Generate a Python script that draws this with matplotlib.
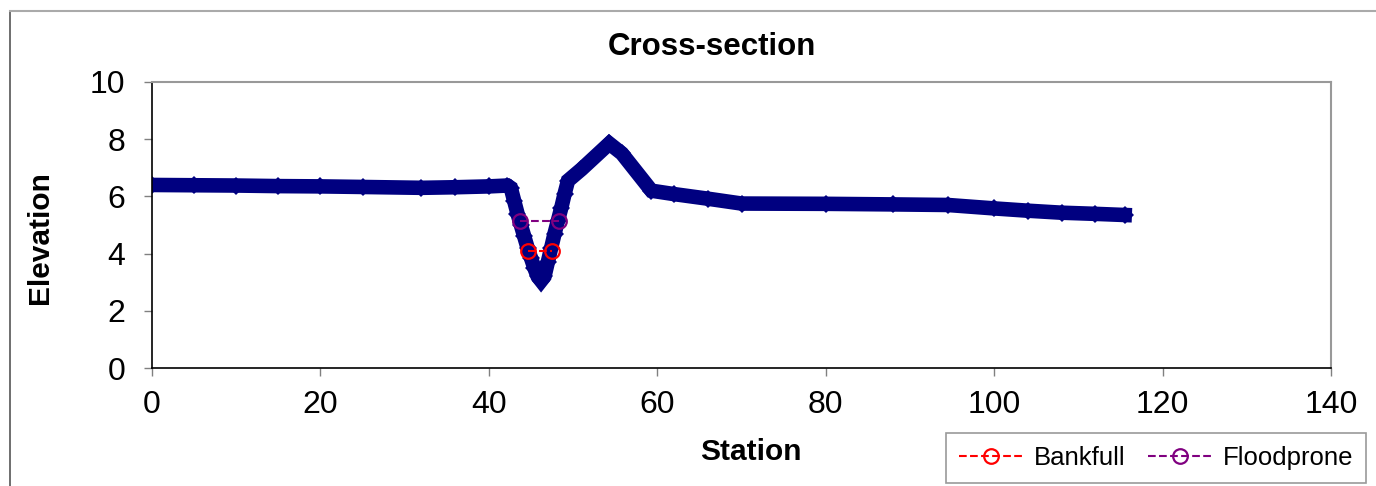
import matplotlib.pyplot as plt
from matplotlib.lines import Line2D

plt.rcParams['font.family'] = ['Liberation Sans', 'DejaVu Sans']

# 断面测量点 (station, elevation)
station = [0, 5, 10, 15, 20, 25, 32, 36, 40, 42.2,
           42.6, 43.0, 43.4, 43.8, 44.2, 44.6, 45.0, 45.4, 45.8, 46.2,
           46.6, 47.0, 47.4, 47.8, 48.2, 48.6, 49.0, 49.4,
           51.0, 54.3, 55.8, 59.3, 62.0, 66.0, 70.0, 80.0, 88.0, 94.5,
           100.0, 104.0, 108.0, 112.0, 115.5]
elevation = [6.40, 6.39, 6.38, 6.36, 6.35, 6.33, 6.30, 6.32, 6.35, 6.38,
             6.30, 5.85, 5.40, 5.00, 4.60, 4.20, 3.85, 3.50, 3.20, 3.05,
             3.20, 3.70, 4.20, 4.70, 5.15, 5.60, 6.10, 6.55,
             6.95, 7.85, 7.50, 6.20, 6.08, 5.92, 5.75, 5.74, 5.72, 5.70,
             5.58, 5.50, 5.43, 5.39, 5.35]

bankfull_x = [44.6, 47.5]
bankfull_y = [4.1, 4.1]
floodprone_x = [43.7, 48.3]
floodprone_y = [5.15, 5.15]

xticks = [0, 20, 40, 60, 80, 100, 120, 140]
yticks = [0, 2, 4, 6, 8, 10]

W, H = 1376, 486
fig = plt.figure(figsize=(W / 100, H / 100), dpi=100)
ax = fig.add_axes([152 / W, 1 - 368 / H, (1331 - 152) / W, (368 - 82) / H])

ax.plot(station, elevation, color='#000080', linewidth=10.5, marker='D',
        markersize=9.5, markeredgewidth=0, solid_joinstyle='miter', zorder=2)

ax.plot(bankfull_x, bankfull_y, color='#FF0000', linestyle='--', linewidth=1.5,
        marker='o', markersize=10.5, markerfacecolor='none', markeredgewidth=1.6,
        label='Bankfull', zorder=3)
ax.plot(floodprone_x, floodprone_y, color='#800080', linestyle='--', linewidth=1.5,
        marker='o', markersize=10.5, markerfacecolor='none', markeredgewidth=1.6,
        label='Floodprone', zorder=3)

ax.set_xlim(0, 140)
ax.set_ylim(0, 10)
ax.set_xticks(xticks)
ax.set_yticks(yticks)
ax.tick_params(axis='both', direction='out', length=6, width=1, color='#808080',
               labelsize=23)
ax.tick_params(axis='y', pad=13)
ax.tick_params(axis='x', pad=10)

for side in ['top', 'right']:
    ax.spines[side].set_color('#999999')
    ax.spines[side].set_linewidth(1.5)
for side in ['left', 'bottom']:
    ax.spines[side].set_color('black')
    ax.spines[side].set_linewidth(1.2)

# 标题和标签
fig.text(712 / W, 1 - 47 / H, 'Cross-section', fontsize=22.5, fontweight='bold',
         ha='center', va='center')
fig.text(751 / W, 1 - 452 / H, 'Station', fontsize=21.5, fontweight='bold',
         ha='center', va='center')
fig.text(40 / W, 1 - 238 / H, 'Elevation', fontsize=21.5, fontweight='bold',
         ha='center', va='center', rotation=90)

# 外框
fig.add_artist(Line2D([10 / W, 10 / W], [0, 1 - 11 / H], color='#555555', linewidth=1.2))
fig.add_artist(Line2D([10 / W, 1], [1 - 11 / H, 1 - 11 / H], color='#aaaaaa', linewidth=1.5))

leg = ax.legend(loc='lower right', bbox_to_anchor=(1366 / W, 1 - 483 / H),
                bbox_transform=fig.transFigure, borderaxespad=0, ncol=2,
                fontsize=18.5, frameon=True, fancybox=False, handlelength=2.5,
                columnspacing=0.9, handletextpad=0.4, borderpad=0.5)
leg.get_frame().set_edgecolor('#808080')
leg.get_frame().set_linewidth(1.2)

fig.savefig('out.png', dpi=100)
